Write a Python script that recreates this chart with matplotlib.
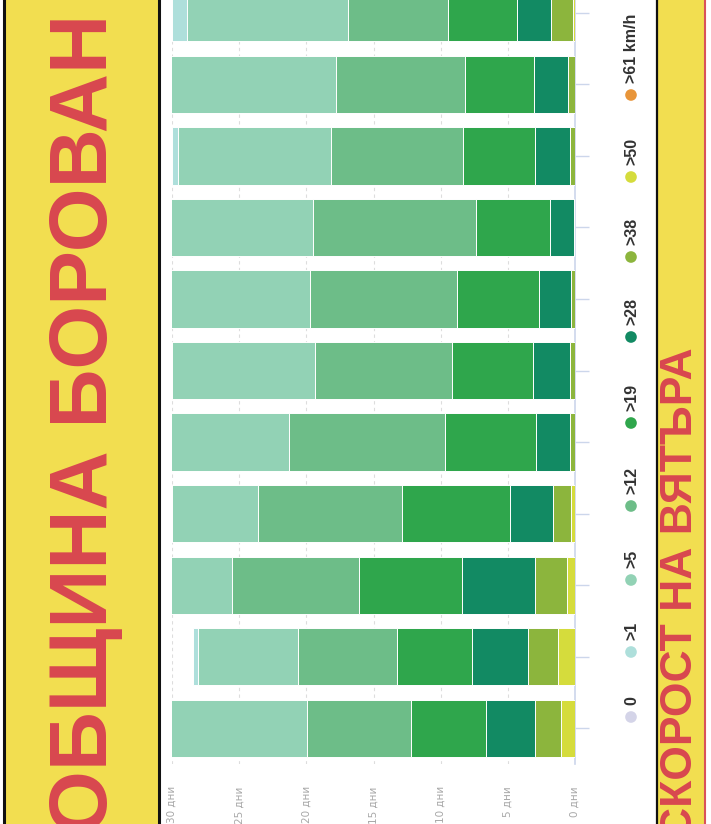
import matplotlib
matplotlib.use('Agg')
import matplotlib.pyplot as plt
import numpy as np
from matplotlib.patches import Rectangle

# ---------------- data (days per month in each max-wind-speed class) ----------------
months = ['Яну', 'Фев', 'Мар', 'Апр', 'Май', 'Юни', 'Юли', 'Авг', 'Сеп', 'Окт', 'Ное']
classes = ['0', '>1', '>5', '>12', '>19', '>28', '>38', '>50', '>61 km/h']
d_61 = [0, 0, 0, 0, 0, 0, 0, 0, 0, 0, 0]
d_50 = [1.04, 1.27, 0.6, 0.3, 0, 0, 0, 0, 0, 0, 0.15]
d_38 = [1.94, 2.23, 2.38, 1.34, 0.37, 0.37, 0.3, 0.1, 0.37, 0.52, 1.64]
d_28 = [3.65, 4.17, 5.44, 3.2, 2.53, 2.76, 2.38, 1.79, 2.61, 2.53, 2.53]
d_19 = [5.58, 5.58, 7.67, 8.04, 6.78, 6.03, 6.1, 5.51, 5.36, 5.14, 5.14]
d_12 = [7.74, 7.37, 9.46, 10.72, 11.62, 10.2, 10.95, 12.14, 9.83, 9.61, 7.45]
d_5 = [10.5, 7.45, 5.45, 6.4, 9.7, 10.64, 11.27, 11.46, 11.39, 13.2, 11.99]
d_1 = [0.5, 0.37, 0, 0, 0, 0, 0, 0, 0.44, 0, 1.1]
d_0 = [0, 0, 0, 0, 0, 0, 0, 0, 0, 0, 0]
xticks = [0, 5, 10, 15, 20, 25, 30]
xtick_labels = ['0 дни', '5 дни', '10 дни', '15 дни', '20 дни', '25 дни', '30 дни']
title_left = 'ОБЩИНА БОРОВАН'
title_right = 'СКОРОСТ НА ВЯТЪРА'

# ---------------- styles ----------------
colors = {'0': '#d4d4e8', '>1': '#aedfdb', '>5': '#92d2b5', '>12': '#6dbd88',
          '>19': '#2fa64c', '>28': '#128a63', '>38': '#8cb53d', '>50': '#d5dc3c',
          '>61 km/h': '#e8953a'}
YELLOW = '#f2de50'
RED = '#d8474f'
SANS = ['Liberation Sans', 'DejaVu Sans']

W, H = 711, 824
fig = plt.figure(figsize=(W / 100, H / 100), dpi=100)
fig.patch.set_facecolor('white')

# overlay axes in pixel coordinates (behind main plot)
ov = fig.add_axes([0, 0, 1, 1], zorder=0)
ov.set_xlim(0, W)
ov.set_ylim(H, 0)
ov.axis('off')

# left yellow panel
ov.add_patch(Rectangle((4, -10), 155, H + 20, facecolor=YELLOW, edgecolor='#111111', lw=2.2))
ov.text(86, 14, title_left, rotation=90, ha='center', va='top', color=RED,
        fontsize=59, fontweight='bold', family=SANS)

# right yellow panel
ov.add_patch(Rectangle((657, -10), 47, H + 20, facecolor=YELLOW, edgecolor='none'))
ov.plot([657, 657], [-10, H + 10], color='#111111', lw=1.6)
ov.plot([705, 705], [-10, H + 10], color='#d9535a', lw=1.5)
ov.text(681, 347, title_right, rotation=90, ha='center', va='top', color=RED,
        fontsize=32, fontweight='bold', family=SANS)

# legend (vertical, rotated text)
legend_y_px = [717, 652, 580, 506, 423, 337, 257, 177, 95]
for cls, yp in zip(classes, legend_y_px):
    ov.scatter([631], [yp], s=70, color=colors[cls], edgecolors='none', zorder=5)
    ov.text(632, yp - 12, cls, rotation=90, ha='center', va='bottom', color='#333333',
            fontsize=11.5, fontweight='bold', family=SANS)

# ---------------- main chart ----------------
left_px, right_px, bottom_px, top_px = 172, 575, 764, 0
ax = fig.add_axes([left_px / W, (H - bottom_px) / H, (right_px - left_px) / W,
                   (bottom_px - top_px) / H], zorder=2)
ax.patch.set_alpha(0)

y = np.arange(len(months))
stack = [('>61 km/h', d_61), ('>50', d_50), ('>38', d_38), ('>28', d_28), ('>19', d_19),
         ('>12', d_12), ('>5', d_5), ('>1', d_1), ('0', d_0)]
left = np.zeros(len(months))
for cls, vals in stack:
    vals = np.array(vals, dtype=float)
    ax.barh(y, vals, left=left, height=0.8, color=colors[cls], edgecolor='white',
            linewidth=0.7, zorder=3)
    left += vals

ax.set_xlim(30, 0)
ax.set_ylim(-0.5, 10.18)
ax.set_xticks(xticks)
ax.set_xticklabels(xtick_labels, rotation=90, color='#a8a8a8', fontsize=7.5)
ax.tick_params(axis='x', length=0, pad=16)
ax.grid(axis='x', color='#dddddd', linestyle=(0, (3, 3)), linewidth=0.8, zorder=1)
ax.yaxis.tick_right()
ax.set_yticks(y)
ax.set_yticklabels([])
ax.tick_params(axis='y', length=10, color='#ccd6eb', width=1)
for s in ['top', 'left', 'bottom']:
    ax.spines[s].set_visible(False)
ax.spines['right'].set_color('#ccd6eb')
ax.spines['right'].set_linewidth(1.2)

fig.savefig('out.png', dpi=100, facecolor='white')
